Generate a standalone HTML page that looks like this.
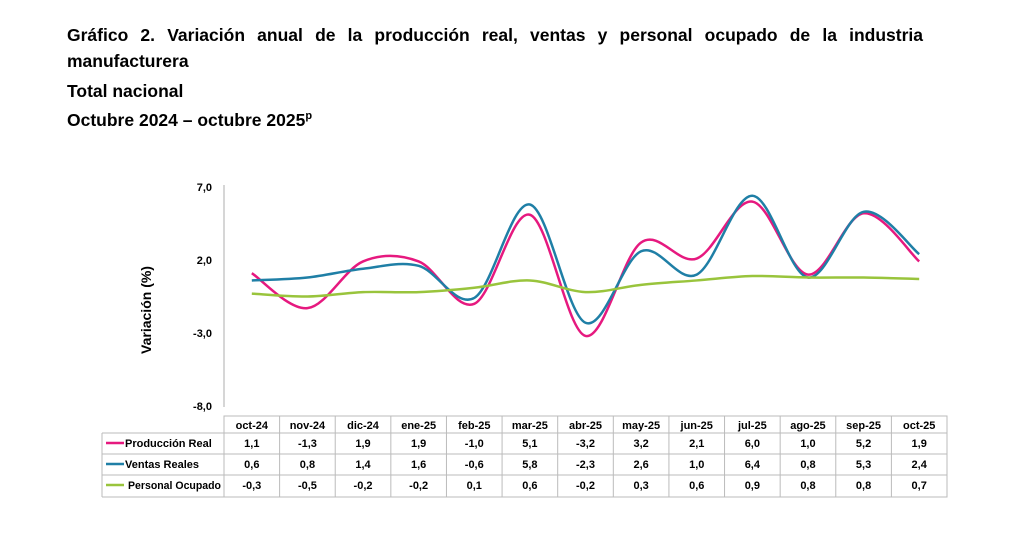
<!DOCTYPE html>
<html><head><meta charset="utf-8"><style>
body{margin:0;width:1024px;height:546px;background:#fff;font-family:"Liberation Sans",Arial,sans-serif;overflow:hidden}
.t{position:absolute;left:67px;font-weight:bold;font-size:17.5px;color:#000;margin:0}
svg{position:absolute;left:0;top:0}
</style></head><body>
<div class="t" style="top:25px;width:856px;text-align:justify;text-align-last:justify">Gráfico 2. Variación anual de la producción real, ventas y personal ocupado de la industria</div>
<div class="t" style="top:51px">manufacturera</div>
<div class="t" style="top:81px">Total nacional</div>
<div class="t" style="top:110px">Octubre 2024 – octubre 2025<sup style="font-size:11px">p</sup></div>
<svg width="1024" height="546" font-family="Liberation Sans, Arial, sans-serif">
<line x1="224" y1="185" x2="224" y2="407" stroke="#c8c8c8" stroke-width="1.5"/>
<g font-size="11" font-weight="bold" text-anchor="end" fill="#000">
<text x="212" y="191">7,0</text><text x="212" y="264">2,0</text><text x="212" y="337">-3,0</text><text x="212" y="410">-8,0</text>
</g>
<text transform="translate(151,310) rotate(-90)" font-size="14" font-weight="bold" text-anchor="middle">Variación  (%)</text>
<path id="p1" fill="none" stroke="#e6197f" stroke-width="2.5"/>
<path id="p2" fill="none" stroke="#1f7fa6" stroke-width="2.5"/>
<path id="p3" fill="none" stroke="#99c43c" stroke-width="2.5"/>
<g stroke="#bbb" stroke-width="1" fill="none">
<rect x="224" y="416" width="723" height="81"/>
<line x1="102" y1="433" x2="947" y2="433"/><line x1="102" y1="454" x2="947" y2="454"/><line x1="102" y1="475" x2="947" y2="475"/><line x1="102" y1="497" x2="224" y2="497"/><line x1="102" y1="433" x2="102" y2="497"/>
<g id="vl"></g>
</g>
<g id="tab" font-size="11" font-weight="bold" text-anchor="middle"></g>
<g font-size="11" font-weight="bold">
<line x1="106" y1="443" x2="124" y2="443" stroke="#e6197f" stroke-width="2.5"/><text x="125" y="447">Producción Real</text>
<line x1="106" y1="464" x2="124" y2="464" stroke="#1f7fa6" stroke-width="2.5"/><text x="125" y="468">Ventas Reales</text>
<line x1="106" y1="485" x2="124" y2="485" stroke="#99c43c" stroke-width="2.5"/><text x="128" y="489" textLength="93" lengthAdjust="spacingAndGlyphs">Personal Ocupado</text>
</g>
</svg>
<script>
var m=["oct-24","nov-24","dic-24","ene-25","feb-25","mar-25","abr-25","may-25","jun-25","jul-25","ago-25","sep-25","oct-25"];
var d=[[1.1,-1.3,1.9,1.9,-1.0,5.1,-3.2,3.2,2.1,6.0,1.0,5.2,1.9],[0.6,0.8,1.4,1.6,-0.6,5.8,-2.3,2.6,1.0,6.4,0.8,5.3,2.4],[-0.3,-0.5,-0.2,-0.2,0.1,0.6,-0.2,0.3,0.6,0.9,0.8,0.8,0.7]];
var W=723/13,ns="http://www.w3.org/2000/svg";
function X(i){return 224+W/2+i*W}function Y(v){return 187+(7-v)*14.6}
function fmt(v){return v.toFixed(1).replace('.',',')}
var tab=document.getElementById('tab'),vl=document.getElementById('vl');
function tx(x,y,s){var t=document.createElementNS(ns,'text');t.setAttribute('x',x);t.setAttribute('y',y);t.textContent=s;tab.appendChild(t)}
for(var i=0;i<13;i++){tx(X(i),429,m[i]);for(var r=0;r<3;r++)tx(X(i),447+r*21,fmt(d[r][i]));
if(i>0){var l=document.createElementNS(ns,'line');l.setAttribute('x1',224+i*W);l.setAttribute('x2',224+i*W);l.setAttribute('y1',416);l.setAttribute('y2',497);vl.appendChild(l)}}
for(var r=0;r<3;r++){var p=d[r].map(function(v,i){return[X(i),Y(v)]});var s="M"+p[0];
for(var i=0;i<12;i++){var a=p[Math.max(i-1,0)],b=p[i],c=p[i+1],e=p[Math.min(i+2,12)],k=1/6;
s+=" C"+(b[0]+(c[0]-a[0])*k)+","+(b[1]+(c[1]-a[1])*k)+" "+(c[0]-(e[0]-b[0])*k)+","+(c[1]-(e[1]-b[1])*k)+" "+c;}
document.getElementById('p'+(r+1)).setAttribute('d',s)}
</script>
</body></html>
